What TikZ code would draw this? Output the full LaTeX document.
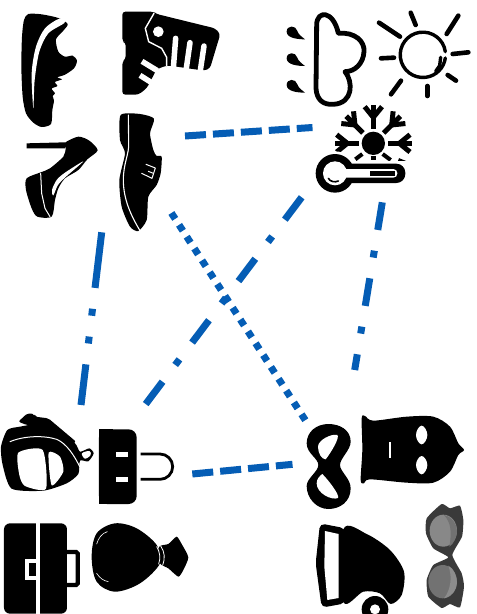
\documentclass[tikz,border=0pt]{standalone}
\definecolor{linkblue}{HTML}{055DB5}
\definecolor{shadedark}{HTML}{3A3A3A}
\definecolor{lensa}{HTML}{888888}
\definecolor{lensb}{HTML}{727272}
\definecolor{lensc}{HTML}{727272}
\definecolor{lensd}{HTML}{8C8C8C}
\tikzset{
  link/.style={draw=linkblue,line width=7pt,line cap=butt},
  dashlink/.style={link,dash pattern=on 21pt off 7pt},
  dotlink/.style={link,dash pattern=on 7pt off 7.1pt},
  altlink/.style={link,dash pattern=on 28pt off 21pt on 7pt off 21pt},
  longlink/.style={link,dash pattern=on 56pt off 21pt on 7pt off 21pt on 7pt off 21pt on 60pt off 10pt},
  zoomed/.style={x=0.33333pt,y=-0.33333pt},
  ink/.style={fill=black,draw=none},
  paper/.style={fill=white,draw=none},
  inkline/.style={draw=black,line cap=round,line join=round},
  paperline/.style={draw=white,line cap=round,line join=round}
}
\begin{document}
\begin{tikzpicture}[x=1pt,y=-1pt]
\path[use as bounding box,clip] (0,0) rectangle (477,614);
\fill[white] (0,0) rectangle (477,614);

% ---------- top-left: four shoes
\begin{scope}[zoomed]
% sneaker
\fill[ink] plot[smooth cycle,tension=0.45] coordinates {(85,42) (125,43) (175,54) (203,72) (190,92) (168,118) (175,155) (195,170) (218,167) (231,182) (222,205) (195,224) (172,232) (186,238) (165,246) (172,258) (155,266) (165,280) (158,288) (162,302) (157,330) (153,372) (125,381) (100,368) (78,340) (68,290) (64,200) (66,110) (72,60)};
\fill[paper] plot[smooth cycle,tension=0.5] coordinates {(178,56) (135,85) (108,140) (95,220) (100,325) (104,240) (118,155) (145,100) (194,68)};
% boot
\fill[ink,rounded corners=3pt] (367,35) -- (460,35) -- (470,42) -- (645,85) -- (661,102) -- (630,205) -- (612,212) -- (510,197) -- (495,198) -- (470,208) -- (440,265) -- (415,284) -- (367,284) -- (367,185) -- (377,177) -- (377,128) -- (367,124) -- cycle;
\draw[paperline,line width=1.4pt] (462,40) -- (436,85) -- (446,125) -- (485,145) -- (500,172) -- (500,197);
\fill[white] (475,95) circle (16);
\draw[paperline,line width=5.5pt] (527,115) -- (520,205);
\draw[paperline,line width=5.5pt] (570,128) -- (558,212);
\draw[paperline,line width=5.5pt] (612,138) -- (600,218);
\draw[white,line width=5.5pt] (426,184) -- (472,212);
\draw[white,line width=5.5pt] (420,226) -- (458,250);
% high heel
\fill[ink] (80,430) -- (195,427) -- (195,445) -- (80,445) -- cycle;
\fill[ink] plot[smooth cycle,tension=0.45] coordinates {(195,428) (235,410) (268,422) (293,451) (262,478) (235,510) (195,535) (175,565) (165,600) (155,650) (112,650) (95,625) (78,570) (80,535) (125,516) (150,505) (190,470) (197,445)};
\fill[paper] plot[smooth cycle,tension=0.5] coordinates {(250,484) (195,518) (170,540) (156,570) (160,586) (174,555) (198,530)};
\draw[paperline,line width=1pt] (122,520) -- (125,580) -- (135,625) -- (150,650);
% derby
\fill[ink] plot[smooth cycle,tension=0.4] coordinates {(362,345) (420,342) (462,356) (450,400) (460,450) (470,468) (485,470) (482,520) (470,555) (445,590) (440,660) (415,693) (390,680) (365,620) (358,540) (375,460) (360,420)};
\draw[paperline,line width=1.1pt] (385,345) -- (386,430) .. controls (388,460) and (370,490) .. (370,540) .. controls (370,600) and (395,650) .. (420,692);
\draw[paperline,line width=1pt] (438,493) -- (466,504) -- (456,535) -- (425,520);
\draw[paperline,line width=1pt] (445,514) -- (460,520);
\end{scope}

% ---------- top-right: weather
\begin{scope}[shift={(270,0)},zoomed]
% drops
\foreach \dy in {95,175,255}{
  \fill[ink] (105,\dy+23) .. controls (85,\dy+23) and (50,\dy+20) .. (50,\dy) .. controls (50,\dy-20) and (78,\dy-20) .. (82,\dy-2) .. controls (85,\dy+8) and (95,\dy+15) .. (105,\dy+23) -- cycle;
}
% cloud
\draw[inkline,line width=4.8pt] (140,75) .. controls (140,30) and (190,30) .. (205,100) .. controls (255,95) and (285,125) .. (282,155) .. controls (280,190) and (255,215) .. (225,215) .. controls (250,245) and (250,310) .. (190,313) .. controls (160,315) and (140,300) .. (138,265) -- cycle;
% sun
\draw[inkline,line width=3.4pt] (526,155) arc[start angle=-8,end angle=-352,radius=68];
\draw[inkline,line width=3.4pt] (512,172) -- (509,197) -- (497,214);
\foreach \ax/\ay/\bx/\by in {327/68/390/110,422/38/437/75,565/47/530/102,333/175/372/173,548/162/595/157,533/225/558/242,393/242/363/283,472/258/472/288}{
  \draw[inkline,line width=4.6pt] (\ax,\ay) -- (\bx,\by);
}
% snowflake
\fill[ink] (310,430) circle (35);
\foreach \r in {0,45,90,-45,-90}{
  \begin{scope}[shift={(310,430)},rotate=\r]
    \draw[black,line width=5pt] (0,-44) -- (0,-115);
    \draw[black,line width=5pt] (0,-78) -- (-26,-110);
    \draw[black,line width=5pt] (0,-78) -- (26,-110);
  \end{scope}
}
\draw[black,line width=4pt] (277,462) -- (256,478);
\draw[black,line width=4pt] (302,474) -- (318,474);
\draw[black,line width=4pt] (338,462) -- (362,480);
\draw[black,line width=4pt] (385,480) -- (410,490);
% thermometer
\fill[white] (195,520) circle (66);
\fill[white] (195,484) rectangle (414,500);
\fill[ink] (195,520) circle (58);
\fill[ink,rounded corners=9pt] (195,491) rectangle (406,549);
\fill[white] (195,520) circle (36);
\fill[white,rounded corners=4pt] (195,507) rectangle (382,533);
\fill[ink] (300,513) rectangle (375,527);
\draw[inkline,line width=1.6pt] (175,535) .. controls (180,545) and (195,548) .. (205,543);
\end{scope}

% ---------- bottom-left: bags
\begin{scope}[shift={(0,400)},zoomed]
% bag with strap
\fill[ink] plot[smooth cycle,tension=0.4] coordinates {(3,140) (22,90) (60,80) (118,72) (170,95) (225,130) (240,155) (268,145) (281,160) (265,184) (240,182) (235,222) (200,250) (130,272) (35,266) (8,195)};
\fill[ink,rounded corners=2pt] (55,65) -- (82,40) -- (103,42) -- (105,50) -- (145,55) -- (228,125) -- (215,135) -- (130,80) -- (80,75) -- cycle;
\draw[paperline,line width=1pt] (30,125) .. controls (70,108) and (130,105) .. (170,118) .. controls (200,130) and (225,170) .. (240,202);
\fill[white] plot[smooth cycle,tension=0.4] coordinates {(55,158) (128,150) (138,266) (75,258) (58,225)};
\fill[white] plot[smooth cycle,tension=0.4] coordinates {(146,158) (180,170) (190,215) (155,256)};
\fill[white] plot[smooth cycle,tension=0.6] coordinates {(246,160) (268,153) (272,165) (255,176)};
% padlock-like bag
\fill[ink,rounded corners=8pt] (297,88) -- (410,88) -- (410,312) -- (297,312) -- cycle;
\fill[ink] (297,88) rectangle (340,312);
\fill[white] (347,157) rectangle (385,170);
\fill[white] (347,232) rectangle (385,245);
\draw[black,line width=2.8pt] (422,162) -- (480,162) arc[start angle=-90,end angle=90,radius=38] -- (422,238);
% case
\fill[ink,rounded corners=6pt] (12,370) rectangle (201,641);
\fill[white] (107,360) rectangle (121,650);
\fill[white] (76,477) rectangle (107,540);
\fill[ink] (88,490) rectangle (107,527);
\draw[black,line width=4.2pt,rounded corners=1.5pt] (200,456) -- (233,456) -- (233,555) -- (200,555);
% sack
\fill[ink] plot[smooth cycle,tension=0.55] coordinates {(345,370) (410,385) (470,435) (480,490) (420,550) (345,575) (290,545) (275,470) (290,400)};
\fill[ink] plot[smooth cycle,tension=0.35] coordinates {(478,440) (505,432) (530,410) (545,432) (565,472) (550,510) (535,530) (505,505) (480,490)};
\draw[paperline,line width=0.8pt] (470,440) .. controls (480,455) and (482,475) .. (476,492);
\draw[paperline,line width=0.8pt] (482,438) .. controls (494,455) and (496,475) .. (488,496);
\draw[paperline,line width=0.6pt] (322,395) .. controls (305,400) and (295,415) .. (290,432);
\draw[paperline,line width=0.6pt] (290,520) .. controls (300,535) and (310,542) .. (325,545);
\end{scope}

% ---------- bottom-right: mask, balaclava, hat, glasses
\begin{scope}[shift={(290,400)},zoomed]
\fill[ink] (115,72) .. controls (150,72) and (182,90) .. (182,125) .. controls (182,150) and (150,175) .. (150,195) .. controls (150,215) and (182,235) .. (182,265) .. controls (182,305) and (150,327) .. (115,327) .. controls (80,327) and (50,295) .. (50,258) .. controls (50,235) and (85,215) .. (85,195) .. controls (85,175) and (50,160) .. (50,130) .. controls (50,95) and (80,72) .. (115,72) -- cycle;
\fill[white] (84,140) .. controls (84,120) and (125,100) .. (142,105) .. controls (150,112) and (125,155) .. (107,178) .. controls (95,178) and (84,160) .. (84,140) -- cycle;
\fill[white] (97,222) .. controls (115,240) and (150,285) .. (144,294) .. controls (125,302) and (80,280) .. (80,250) .. controls (80,238) and (88,228) .. (97,222) -- cycle;
% balaclava
\fill[ink] plot[smooth cycle,tension=0.5] coordinates {(215,55) (225,48) (250,62) (350,50) (430,50) (480,80) (505,130) (522,150) (505,165) (480,215) (430,248) (350,248) (240,238) (222,250) (212,240) (217,150)};
\fill[white] plot[smooth cycle,tension=0.8] coordinates {(395,77) (412,105) (395,133) (378,105)};
\fill[white] plot[smooth cycle,tension=0.8] coordinates {(395,168) (412,195) (395,223) (378,195)};
\fill[white] (296,125) rectangle (303,175);
% hat
\fill[ink] plot[smooth cycle,tension=0.5] coordinates {(160,388) (230,402) (300,450) (342,515) (335,585) (302,612) (270,580) (220,575) (160,605)};
\fill[ink,rounded corners=5pt] (90,370) -- (166,385) -- (166,610) -- (95,623) -- (77,490) -- cycle;
\fill[white] (105,393) -- (146,402) -- (146,594) -- (112,600) -- (103,500) -- cycle;
\fill[ink] (255,628) circle (40);
\fill[white] (255,628) circle (15);
% sunglasses
\fill[shadedark] plot[smooth cycle,tension=0.3] coordinates {(410,355) (455,312) (480,325) (510,317) (520,360) (516,410) (487,465) (515,520) (522,560) (510,622) (480,612) (455,624) (415,590) (410,540) (430,495) (475,472) (430,445) (408,400)};
\fill[lensa] (460,392) ellipse (41 and 48);
\fill[lensb] (462,345) .. controls (485,350) and (501,372) .. (501,392) .. controls (500,415) and (490,432) .. (478,440) .. controls (485,400) and (485,370) .. (462,345) -- cycle;
\fill[lensc] (458,545) ellipse (43 and 50);
\fill[lensd] (475,497) .. controls (492,505) and (501,530) .. (501,548) .. controls (500,570) and (485,590) .. (462,595) .. controls (482,570) and (488,530) .. (475,497) -- cycle;
\end{scope}

% ---------- connectors
\coordinate (shoesTop) at (185,136);
\coordinate (weatherTop) at (312.5,127.5);
\coordinate (shoesLeft) at (101.7,232.3);
\coordinate (bagsLeft) at (81,405);
\coordinate (weatherCross) at (301.7,197.3);
\coordinate (bagsCross) at (145,405);
\coordinate (weatherDown) at (382.3,202.3);
\coordinate (maskUp) at (354.7,370);
\coordinate (shoesCross) at (171.4,213);
\coordinate (maskCross) at (305.4,420.3);
\coordinate (bagsRight) at (192.3,474);
\coordinate (maskLeft) at (292.5,464.3);
\draw[dashlink] (shoesTop) -- (weatherTop);
\draw[dashlink] (bagsRight) -- (maskLeft);
\draw[longlink] (shoesLeft) -- (bagsLeft);
\draw[altlink] (weatherCross) -- (bagsCross);
\draw[altlink] (weatherDown) -- (maskUp);
\draw[dotlink] (shoesCross) -- (maskCross);
\end{tikzpicture}
\end{document}
